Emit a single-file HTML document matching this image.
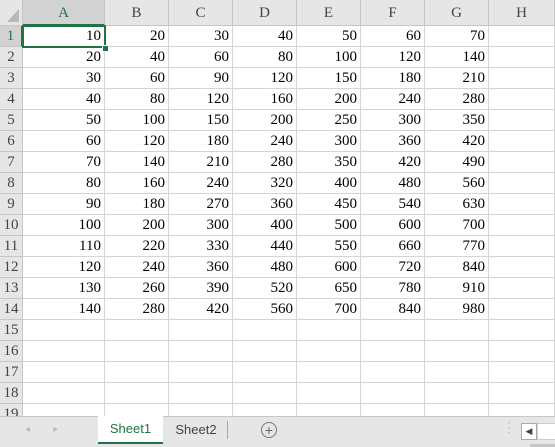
<!DOCTYPE html>
<html><head><meta charset="utf-8"><style>
html,body{margin:0;padding:0;width:555px;height:447px;overflow:hidden;background:#fff;font-family:"Liberation Serif",serif;}
#wrap{position:relative;width:555px;height:447px;}
.hdr{position:absolute;background:#e6e6e6;border-right:1px solid #c6c6c6;border-bottom:1px solid #c6c6c6;box-sizing:border-box;color:#444;font-size:15px;text-align:center;}
.cell{position:absolute;border-right:1px solid #d4d4d4;border-bottom:1px solid #d4d4d4;box-sizing:border-box;font-size:15px;text-align:right;padding-right:3px;color:#000;}
#tabs{position:absolute;left:0;top:416px;width:555px;height:31px;background:#e6e6e6;border-top:1px solid #c6c6c6;box-sizing:border-box;font-family:"Liberation Sans",sans-serif;}
</style></head><body>
<div id="wrap">
<div class="hdr" style="left:0;top:0;width:23px;height:26px;"><svg width="23" height="26" style="position:absolute;left:0;top:0"><polygon points="19,9 19,22 7,22" fill="#b8b8b8"/></svg></div>
<div id="tabs">
  <span style="position:absolute;left:25px;top:7px;color:#bbb;font-size:10px;">◂</span>
  <span style="position:absolute;left:53px;top:7px;color:#bbb;font-size:10px;">▸</span>
  <div style="position:absolute;left:98px;top:-1px;width:65px;height:26px;background:#fff;border-bottom:2px solid #217346;color:#217346;font-size:13px;text-align:center;line-height:26px;">Sheet1</div>
  <div style="position:absolute;left:165px;top:0;width:62px;height:26px;color:#444;font-size:13px;text-align:center;line-height:26px;">Sheet2</div>
  <div style="position:absolute;left:227px;top:4px;width:1px;height:18px;background:#aaa;"></div>
  <div style="position:absolute;left:261px;top:5px;width:14px;height:14px;border:1px solid #777;border-radius:50%;color:#666;font-size:14px;line-height:14px;text-align:center;">+</div>
  <span style="position:absolute;left:507px;top:4px;color:#999;font-size:11px;line-height:5px;">·<br>·<br>·</span>
  <div style="position:absolute;left:521px;top:6px;width:14px;height:15px;background:#fff;border:1px solid #aaa;font-size:9px;text-align:center;line-height:15px;color:#444;">◀</div>
  <div style="position:absolute;left:537px;top:6px;width:18px;height:15px;background:#fff;border:1px solid #ccc;"></div>
  <div style="position:absolute;left:530px;top:27px;width:25px;height:4px;background:#c6c6c6;"></div>
</div>
</div>
<script>
const colLabels=["A","B","C","D","E","F","G","H"];
const colA=[10,20,30,40,50,60,70,80,90,100,110,120,130,140];
const colB=[20,40,60,80,100,120,140,160,180,200,220,240,260,280];
const colC=[30,60,90,120,150,180,210,240,270,300,330,360,390,420];
const colD=[40,80,120,160,200,240,280,320,360,400,440,480,520,560];
const colE=[50,100,150,200,250,300,350,400,450,500,550,600,650,700];
const colF=[60,120,180,240,300,360,420,480,540,600,660,720,780,840];
const colG=[70,140,210,280,350,420,490,560,630,700,770,840,910,980];
const cols=[colA,colB,colC,colD,colE,colF,colG,[]];
const W=document.getElementById('wrap');
const xs=[23,105,169,233,297,361,425,489,553];
const HH=26,RH=21,NR=19;
function mk(cls,l,t,w,h){const d=document.createElement('div');d.className=cls;d.style.left=l+'px';d.style.top=t+'px';d.style.width=w+'px';d.style.height=h+'px';d.style.lineHeight=h+'px';W.insertBefore(d,document.getElementById('tabs'));return d;}
colLabels.forEach((c,i)=>{
  const d=mk('hdr',xs[i],0,xs[i+1]-xs[i]+(i==7?2:0),HH);
  d.textContent=c;
  
  
  if(i==0){d.style.background='#d2d2d2';d.style.color='#217346';d.style.borderBottom='2px solid #217346';}
});
for(let r=0;r<NR;r++){
  const t=HH+r*RH;
  const h=mk('hdr',0,t,23,RH);
  h.textContent=r+1;
  
  
  if(r==0){h.style.background='#d2d2d2';h.style.color='#217346';h.style.borderRight='2px solid #217346';}
  for(let c=0;c<8;c++){
    const d=mk('cell',xs[c],t,xs[c+1]-xs[c]+(c==7?2:0),RH);
    const v=cols[c][r];
    if(v!==undefined)d.textContent=v;
    
    
  }
}
const sel=document.createElement('div');


sel.style.cssText='position:absolute;left:22px;top:25px;width:84px;height:23px;border:2px solid #217346;box-sizing:border-box;pointer-events:none;';
W.appendChild(sel);
const fh=document.createElement('div');


fh.style.cssText='position:absolute;left:102px;top:45px;width:5px;height:5px;background:#217346;border:1px solid #fff;';
W.appendChild(fh);
</script>
</body></html>
